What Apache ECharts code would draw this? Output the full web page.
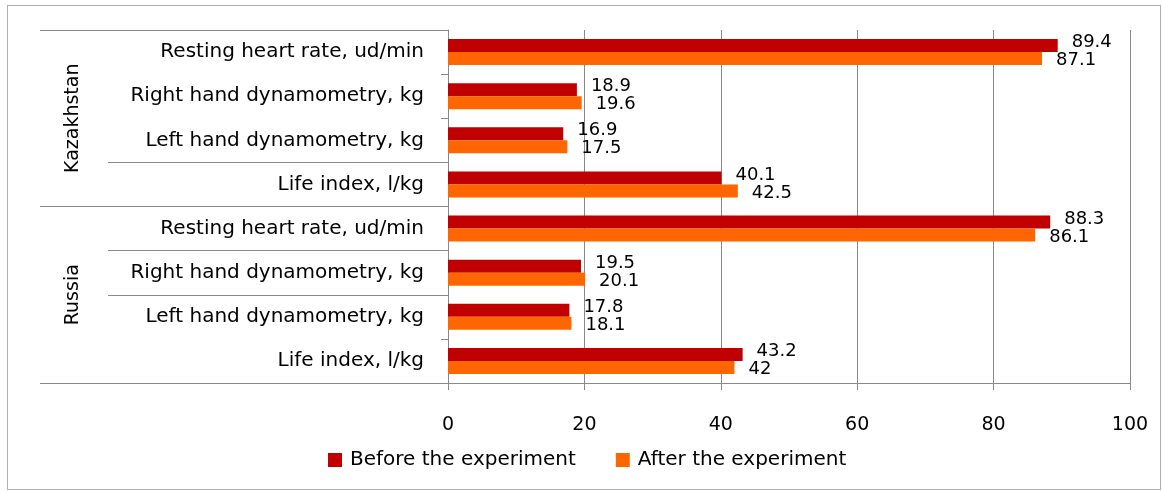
<!DOCTYPE html>
<html style="height: 100%;margin: 0;padding: 0;">
<head>
<meta charset="utf-8">
<title>Before / after the experiment</title>
<script src="https://cdn.jsdelivr.net/npm/echarts@6/dist/echarts.min.js"></script>
</head>
<body style="margin:0;padding:0;background:#fff;">
<div id="main" style="position:absolute;left:7px;top:5px;width:1152px;height:483px;border:1px solid #b0b0b0;"></div>
<script type="text/javascript">
// categories listed bottom-up (category axis runs from the bottom)
var categories = [
	'Life index, l/kg', 'Left hand dynamometry, kg', 'Right hand dynamometry, kg', 'Resting heart rate, ud/min',
	'Life index, l/kg', 'Left hand dynamometry, kg', 'Right hand dynamometry, kg', 'Resting heart rate, ud/min'
];
var groups = ['Russia', 'Kazakhstan'];
var before = [43.2, 17.8, 19.5, 88.3, 40.1, 16.9, 18.9, 89.4];
var after = [42, 18.1, 20.1, 86.1, 42.5, 17.5, 19.6, 87.1];
var seriesNames = ['Before the experiment', 'After the experiment'];

// which category boundaries get a full-width separator line (as in the original)
var longLines = [0, 2, 3, 4, 5];

var font = '"DejaVu Sans", sans-serif';
var gray = '#898989';

var myChart = echarts.init(document.getElementById('main'));
var option = {
	animation: false,
	color: ['#C00000', '#FF6600'],
	textStyle: { fontFamily: font },
	grid: { left: 440, right: 30, top: 24, bottom: 106, outerBoundsMode: 'none', containLabel: false },
	legend: {
		data: seriesNames,
		left: 315,
		top: 439,
		itemWidth: 14,
		itemHeight: 14,
		itemGap: 40,
		icon: 'rect',
		textStyle: { fontFamily: font, fontSize: 20, color: '#000', padding: [0, 0, 0, 3] }
	},
	xAxis: {
		type: 'value',
		min: 0,
		max: 100,
		interval: 20,
		axisLine: { show: true, lineStyle: { color: gray } },
		axisTick: { show: true, length: 7, lineStyle: { color: gray } },
		axisLabel: { margin: 33, fontFamily: font, fontSize: 19, color: '#000' },
		splitLine: { show: true, lineStyle: { color: gray, width: 1 } }
	},
	yAxis: [
		{
			type: 'category',
			position: 'left',
			data: categories,
			axisLine: { show: true, lineStyle: { color: gray } },
			axisTick: {
				show: true,
				length: 340,
				interval: function (index) { return longLines.indexOf(index) >= 0; },
				lineStyle: { color: gray }
			},
			axisLabel: { margin: 24, fontFamily: font, fontSize: 20, color: '#000', interval: 0 }
		},
		{
			type: 'category',
			position: 'left',
			data: categories,
			axisLine: { show: false },
			axisTick: { show: true, length: 7, interval: 0, lineStyle: { color: gray } },
			axisLabel: { show: false }
		},
		{
			type: 'category',
			position: 'left',
			data: groups,
			offset: 340,
			axisLine: { show: false },
			axisTick: { show: true, length: 68, interval: 0, lineStyle: { color: gray } },
			axisLabel: { margin: 25, rotate: 90, fontFamily: font, fontSize: 19, color: '#000', interval: 0 }
		}
	],
	series: [
		{
			name: seriesNames[0],
			type: 'bar',
			yAxisIndex: 0,
			data: before,
			barGap: '0%',
			barCategoryGap: '41%',
			label: { show: true, position: 'right', distance: 14, offset: [0, -3], fontFamily: font, fontSize: 18, color: '#000' }
		},
		{
			name: seriesNames[1],
			type: 'bar',
			yAxisIndex: 0,
			data: after,
			barGap: '0%',
			barCategoryGap: '41%',
			label: { show: true, position: 'right', distance: 14, offset: [0, 2], fontFamily: font, fontSize: 18, color: '#000' }
		}
	]
};
myChart.setOption(option);
</script>
</body>
</html>
